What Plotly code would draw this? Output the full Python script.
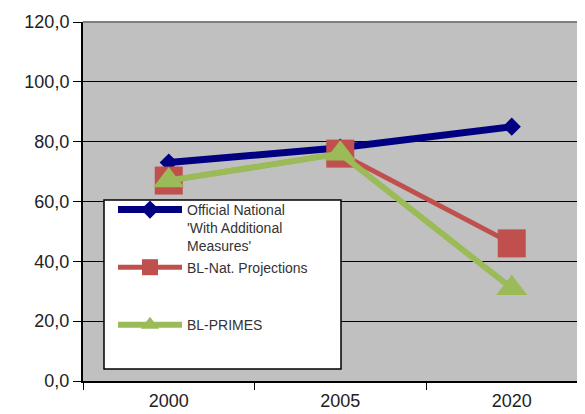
import plotly.graph_objects as go

years = ["2000", "2005", "2020"]
official = [73.0, 78.0, 85.0]
bl_nat = [67.0, 76.0, 46.0]
bl_primes = [67.0, 76.0, 31.0]
y_ticks = [0, 20, 40, 60, 80, 100, 120]

names = ["Official National<br>'With Additional<br>Measures'",
         "BL-Nat. Projections<br> <br> ",
         "BL-PRIMES"]

fig = go.Figure()
fig.add_trace(go.Scatter(x=years, y=official, name=names[0], mode="lines+markers",
                         line=dict(color="#000080", width=7),
                         marker=dict(symbol="diamond", size=14, color="#000080")))
fig.add_trace(go.Scatter(x=years, y=bl_nat, name=names[1], mode="lines+markers",
                         line=dict(color="#C0504D", width=5),
                         marker=dict(symbol="square", size=28, color="#C0504D")))
fig.add_trace(go.Scatter(x=years, y=bl_primes, name=names[2], mode="lines+markers",
                         line=dict(color="#9BBB59", width=6),
                         marker=dict(symbol="triangle-up", size=27, color="#9BBB59")))

OFF = 8  # page body margin
W, H = 585, 414
L, T = 83 - OFF, 22 - OFF
B = H - (381 - OFF)
pw, ph = W - L, H - T - B

def px(x):
    return (x - OFF - L) / pw

def py(y):
    return (H - B - (y - OFF)) / ph

fig.update_layout(
    width=W, height=H,
    margin=dict(l=L, r=0, t=T, b=B, autoexpand=False),
    paper_bgcolor="white", plot_bgcolor="#C0C0C0",
    separators=",.",
    font=dict(family="Liberation Sans, Arial, sans-serif", color="#222"),
    xaxis=dict(type="category", range=[-0.5, -0.5 + pw / 171.5], automargin=False,
               tickson="boundaries", ticks="outside", ticklen=7, tickwidth=1,
               tickcolor="black", showgrid=False, showline=True, linecolor="black",
               linewidth=2, tickfont=dict(size=18, color="#222"), ticklabelstandoff=2),
    yaxis=dict(range=[0, 120], tickvals=y_ticks, tickformat=".1f", automargin=False,
               ticks="outside", ticklen=8, tickwidth=1, tickcolor="black",
               showgrid=True, gridcolor="black", gridwidth=1, zeroline=False,
               showline=True, linecolor="black", linewidth=2,
               tickfont=dict(size=18, color="#222")),
    showlegend=True,
    legend=dict(x=px(113), y=py(194), xanchor="left", yanchor="top",
                bgcolor="rgba(0,0,0,0)", borderwidth=0, valign="top",
                itemwidth=64,
                font=dict(size=14, color="#333"), tracegroupgap=0),
    shapes=[
        dict(type="line", xref="paper", yref="paper", x0=0, x1=1, y0=1, y1=1,
             line=dict(color="#808080", width=2)),
        dict(type="rect", xref="paper", yref="paper", x0=px(104), x1=px(341),
             y0=py(369), y1=py(200), fillcolor="white",
             line=dict(color="black", width=1.5), layer="above"),
    ],
)

fig.write_html("out.html")
